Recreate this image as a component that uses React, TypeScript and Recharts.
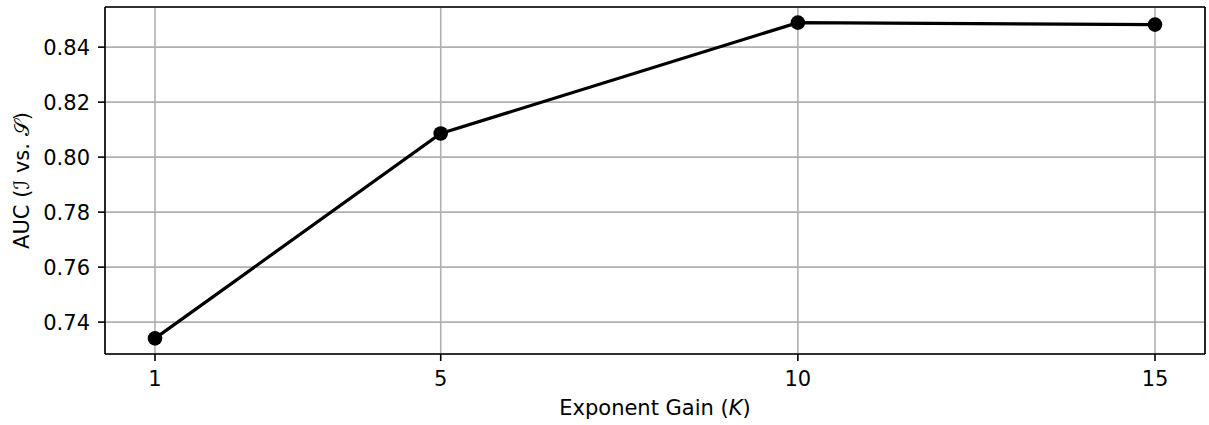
import { LineChart, Line, XAxis, YAxis, CartesianGrid, ReferenceLine } from "recharts";

const gains = [1, 5, 10, 15];
const auc = [0.7341, 0.8086, 0.8489, 0.8482];
const xTicks = [1, 5, 10, 15];
const yTicks = [0.74, 0.76, 0.78, 0.8, 0.82, 0.84];

const data = gains.map((k, i) => ({ k, auc: auc[i] }));

const font = "DejaVu Sans";
const tickStyle = { fontSize: 21, fill: "#000", fontFamily: font };
const xDomain = [0.3, 15.7];
const yDomain = [0.7284, 0.8546];
const frame = { stroke: "#000", strokeWidth: 1.6 };

function XLabel(props: any) {
  const { x, y, width, height } = props.viewBox;
  return (
    <text
      x={x + width / 2}
      y={y + height - 2}
      textAnchor="middle"
      fontSize={21}
      fontFamily={font}
      fill="#000"
    >
      Exponent Gain (<tspan fontStyle="italic">K</tspan>)
    </text>
  );
}

function YLabel(props: any) {
  const { y, height } = props.viewBox;
  const cx = 22;
  const cy = y + height / 2;
  return (
    <text
      x={cx}
      y={cy}
      transform={`rotate(-90 ${cx} ${cy})`}
      textAnchor="middle"
      dominantBaseline="central"
      fontSize={21}
      fontFamily={font}
      fill="#000"
    >
      AUC (<tspan>ℐ</tspan> vs. <tspan>𝒮</tspan>)
    </text>
  );
}

export default function App() {
  return (
    <div style={{ position: "fixed", left: 0, top: 0, background: "#fff" }}>
      <LineChart
        width={1209}
        height={425}
        data={data}
        margin={{ top: 7, right: 4, left: 5, bottom: 8 }}
      >
        <CartesianGrid stroke="#b0b0b0" strokeWidth={1.6} />
        <XAxis
          dataKey="k"
          type="number"
          domain={xDomain}
          ticks={xTicks}
          allowDataOverflow
          height={63}
          tick={tickStyle}
          tickSize={7}
          tickMargin={10}
          tickLine={frame}
          axisLine={frame}
          label={<XLabel />}
        />
        <YAxis
          type="number"
          domain={yDomain}
          ticks={yTicks}
          allowDataOverflow
          width={100}
          tick={tickStyle}
          tickSize={7}
          tickMargin={8}
          tickFormatter={(v: number) => v.toFixed(2)}
          tickLine={frame}
          axisLine={frame}
          label={<YLabel />}
        />
        <ReferenceLine x={xDomain[1]} stroke="#000" strokeWidth={1.6} ifOverflow="extendDomain" />
        <ReferenceLine y={yDomain[1]} stroke="#000" strokeWidth={1.6} ifOverflow="extendDomain" />
        <Line
          dataKey="auc"
          stroke="#000"
          strokeWidth={3.2}
          dot={{ r: 7.3, fill: "#000", stroke: "#000", strokeWidth: 0 }}
          activeDot={false}
          isAnimationActive={false}
        />
      </LineChart>
    </div>
  );
}
